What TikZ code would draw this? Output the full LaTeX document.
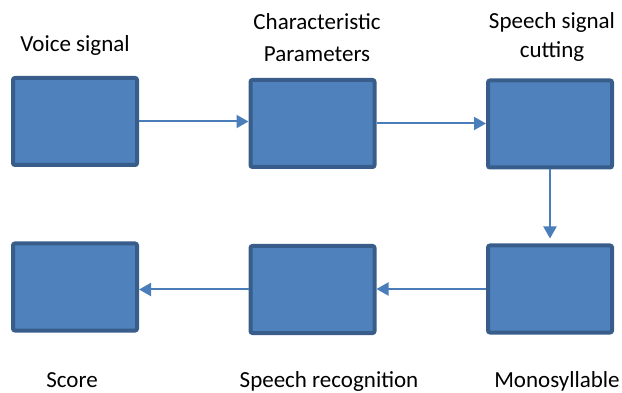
\documentclass[tikz,border=0pt]{standalone}
\usepackage{fontspec}
\setmainfont{Carlito}
\usetikzlibrary{arrows.meta}
\definecolor{boxfill}{HTML}{4F81BD}
\definecolor{boxline}{HTML}{385D8A}
\definecolor{arrline}{HTML}{4A7EBB}
\begin{document}
\begin{tikzpicture}[x=1pt,y=-1pt,
	blk/.style={draw=boxline, fill=boxfill, line width=4pt, rounded corners=2pt, minimum width=124pt, minimum height=87pt, inner sep=0pt},
	lbl/.style={anchor=base, align=center, inner sep=0pt, font=\fontsize{23}{31}\selectfont},
	arr/.style={draw=arrline, line width=2pt, -{Triangle[length=12pt,width=13pt]}}]
	\useasboundingbox (0,0) rectangle (622,393);
	
	% blocks
	\foreach \n/\x/\y in {b1/75/121.5, b2/312.5/123.5, b3/550/124, b4/550/289, b5/312.5/289.5, b6/75/287}
	\node[blk] (\n) at (\x,\y) {};
	
	% labels (base = last line)
	\node[lbl] (t1) at (75,52) {Voice signal};
	\node[lbl, font=\fontsize{23}{32}\selectfont] (t2) at (317,62) {Characteristic\\Parameters};
	\node[lbl, font=\fontsize{23}{29}\selectfont] (t3) at (552,58) {Speech signal\\cutting};
	\node[lbl] (t4) at (557,387) {Monosyllable};
	\node[lbl] (t5) at (329,387) {Speech recognition};
	\node[lbl] (t6) at (72,387) {Score};
	
	% arrows
	\draw[arr] (b1.east) -- (b1.east -| b2.west);
	\draw[arr] (b2.east) -- (b2.east -| b3.west);
	\draw[arr, shorten >=5pt] (b3.south) -- (b4.north);
	\draw[arr] (b4.west) -- (b4.west -| b5.east);
	\draw[arr] (b5.west) -- (b5.west -| b6.east);
\end{tikzpicture}
\end{document}
